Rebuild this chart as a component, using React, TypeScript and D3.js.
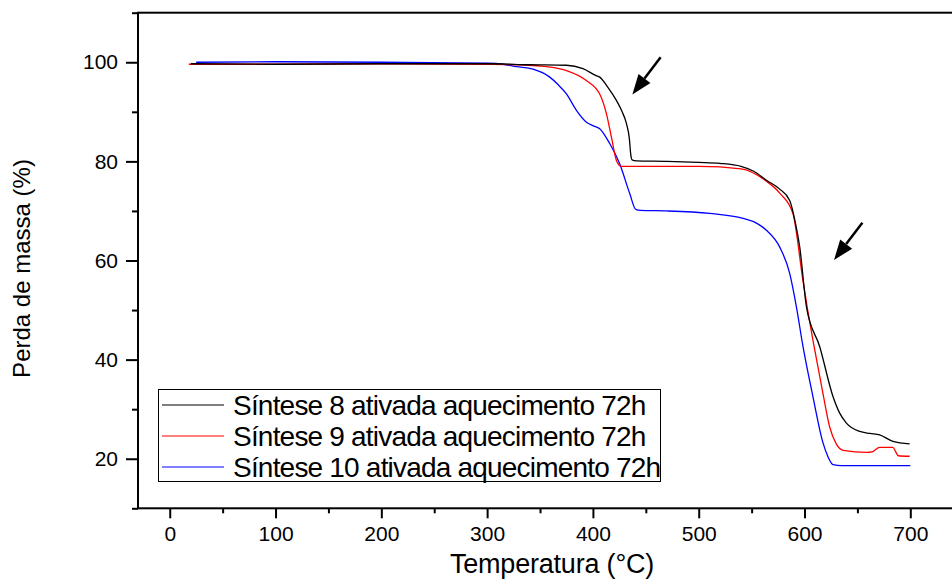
// App.tsx
import { useEffect, useRef } from "react";
import * as d3 from "d3";

//===============================================================DATA===============================================================
// TGA curves: temperature (°C) and mass (%)

const sint8T = [20, 100, 200, 300, 340, 375, 390.6, 403, 406.4, 414, 422.2, 427, 431.7, 434.5, 435.7, 437, 441, 470, 500, 520, 540, 552, 564, 576, 586, 591, 595.5, 601.8, 614.4, 627, 633, 639.6, 652.2, 662, 671, 683.6, 699.4];
const sint8M = [99.7, 99.6, 99.7, 99.7, 99.5, 99.4, 98.7, 97.3, 97.0, 95.0, 92.3, 90.3, 87.6, 84.5, 81.5, 80.3, 80.1, 80.0, 79.8, 79.6, 79.0, 78.0, 76.2, 74.5, 72.1, 68.0, 62.7, 50.7, 42.6, 32.5, 29.3, 27.2, 25.5, 25.1, 24.8, 23.5, 23.0];

const sint9T = [18, 100, 200, 300, 330, 360, 375, 393.8, 406.4, 412.8, 417.5, 422.2, 427, 450, 500, 540, 564, 577, 589, 598.5, 603, 608, 617.5, 623.8, 630, 636.5, 658.5, 664, 671, 683.6, 686, 688.6, 699.4];
const sint9M = [99.6, 99.6, 99.7, 99.6, 99.5, 99.0, 98.3, 96.3, 93.6, 89.6, 84.9, 80.2, 79.0, 79.0, 79.0, 78.5, 76.0, 73.5, 69.5, 56.0, 50.0, 43.9, 33.1, 26.4, 23.0, 21.7, 21.3, 21.4, 22.3, 22.3, 21.5, 20.6, 20.5];

const sint10T = [25, 100, 200, 300, 315, 327.7, 343.4, 359.2, 367, 375, 384.4, 393.9, 400, 406.4, 415.9, 425.3, 434.8, 440.5, 445, 470, 510.4, 541.9, 555, 564, 576.6, 586, 592.3, 598.6, 608, 617.5, 622, 627, 635, 660, 700];
const sint10M = [100.0, 100.1, 100.0, 99.8, 99.6, 99.1, 98.6, 97.0, 95.5, 93.6, 90.3, 87.9, 87.2, 86.6, 83.6, 79.5, 73.5, 70.3, 70.1, 70.0, 69.5, 68.5, 67.5, 66.1, 62.7, 57.4, 50.7, 42.6, 32.5, 23.2, 20.5, 18.8, 18.6, 18.6, 18.6];

const seriesNames = [
  "Síntese 8 ativada aquecimento 72h",
  "Síntese 9 ativada aquecimento 72h",
  "Síntese 10 ativada aquecimento 72h",
];
const seriesColors = ["#000000", "#ff0000", "#0000ff"];

const xMajorTicks = [0, 100, 200, 300, 400, 500, 600, 700];
const xMinorTicks = [50, 150, 250, 350, 450, 550, 650];
const yMajorTicks = [20, 40, 60, 80, 100];
const yMinorTicks = [10, 30, 50, 70, 90, 110];

// arrows: [tailT, tailM, tipT, tipM]
const arrows = [
  [464, 101, 437.3, 93.5],
  [654.7, 67.6, 627.9, 60.1],
];

const FONT = "'Liberation Sans', Arial, sans-serif";

const App = () => {
  const svgRef = useRef<SVGSVGElement | null>(null);

  useEffect(() => {
    //===============================================================SVG SETUP===============================================================
    const svg = d3.select(svgRef.current);
    svg.selectAll("*").remove();

    const x = d3.scaleLinear().domain([-30, 750]).range([138, 963.2]);
    const y = d3.scaleLinear().domain([10, 110]).range([508.3, 12.7]);

    //===============================================================CURVES===============================================================
    const line = d3
      .line<[number, number]>()
      .x((d) => x(d[0]))
      .y((d) => y(d[1]))
      .curve(d3.curveMonotoneX);

    const series = [
      d3.zip(sint8T, sint8M),
      d3.zip(sint9T, sint9M),
      d3.zip(sint10T, sint10M),
    ] as [number, number][][];

    // draw blue first so black sits on top like the original
    [2, 1, 0].forEach((i) => {
      svg
        .append("path")
        .attr("d", line(series[i]))
        .attr("fill", "none")
        .attr("stroke", seriesColors[i])
        .attr("stroke-width", 1.3);
    });

    //===============================================================AXES===============================================================
    const xAxis = svg.append("g").attr("transform", `translate(0,${y(10)})`);
    xAxis.call(d3.axisBottom(x).tickValues(xMajorTicks).tickSize(10).tickSizeOuter(0).tickPadding(8));
    const xMinor = svg.append("g").attr("transform", `translate(0,${y(10)})`);
    xMinor.call(d3.axisBottom(x).tickValues(xMinorTicks).tickSize(5).tickSizeOuter(0).tickFormat(() => ""));

    const yAxis = svg.append("g").attr("transform", `translate(${x(-30)},0)`);
    yAxis.call(d3.axisLeft(y).tickValues(yMajorTicks).tickSize(12).tickSizeOuter(0).tickPadding(8));
    const yMinor = svg.append("g").attr("transform", `translate(${x(-30)},0)`);
    yMinor.call(d3.axisLeft(y).tickValues(yMinorTicks).tickSize(6).tickSizeOuter(0).tickFormat(() => ""));

    [xAxis, xMinor, yAxis, yMinor].forEach((g) => {
      g.select(".domain").remove();
      g.selectAll("line").attr("stroke", "#000").attr("stroke-width", 2);
      g.selectAll("text").attr("font-family", FONT).attr("font-size", 21).attr("fill", "#000");
    });

    // frame (right side falls just outside the picture)
    svg.append("rect")
      .attr("x", x(-30))
      .attr("y", y(110))
      .attr("width", x(750) - x(-30))
      .attr("height", y(10) - y(110))
      .attr("fill", "none")
      .attr("stroke", "#000")
      .attr("stroke-width", 2);

    //===============================================================TITLES===============================================================
    svg.append("text")
      .attr("x", 552)
      .attr("y", 573)
      .attr("text-anchor", "middle")
      .attr("font-family", FONT)
      .attr("font-size", 27)
      .attr("letter-spacing", -0.2)
      .text("Temperatura (°C)");

    svg.append("text")
      .attr("transform", `translate(30,${268.5}) rotate(-90)`)
      .attr("text-anchor", "middle")
      .attr("font-family", FONT)
      .attr("font-size", 24)
      .text("Perda de massa (%)");

    //===============================================================ARROWS===============================================================
    arrows.forEach(([t0, m0, t1, m1]) => {
      const x0 = x(t0), y0 = y(m0), x1 = x(t1), y1 = y(m1);
      const ang = Math.atan2(y1 - y0, x1 - x0);
      const headLen = 20, headW = 7.5;
      const bx = x1 - headLen * Math.cos(ang);
      const by = y1 - headLen * Math.sin(ang);
      svg.append("line")
        .attr("x1", x0).attr("y1", y0).attr("x2", bx).attr("y2", by)
        .attr("stroke", "#000").attr("stroke-width", 2.5);
      const px = -Math.sin(ang) * headW, py = Math.cos(ang) * headW;
      svg.append("polygon")
        .attr("points", `${x1},${y1} ${bx + px},${by + py} ${bx - px},${by - py}`)
        .attr("fill", "#000");
    });

    //===============================================================LEGEND===============================================================
    const legend = svg.append("g");
    legend.append("rect")
      .attr("x", 158.5).attr("y", 389.5).attr("width", 502).attr("height", 92)
      .attr("fill", "#fff").attr("stroke", "#000").attr("stroke-width", 1);

    seriesNames.forEach((name, i) => {
      const ry = 405 + i * 31;
      legend.append("line")
        .attr("x1", 162).attr("x2", 224).attr("y1", ry).attr("y2", ry)
        .attr("stroke", seriesColors[i]).attr("stroke-width", 1.2);
      legend.append("text")
        .attr("x", 233).attr("y", ry).attr("dy", "0.35em")
        .attr("font-family", FONT).attr("font-size", 28)
        .attr("letter-spacing", -0.8)
        .text(name);
    });
  }, []);

  return (
    <svg
      ref={svgRef}
      width={952}
      height={581}
      style={{ position: "absolute", left: 0, top: 0, background: "#fff" }}
    />
  );
};

export default App;
